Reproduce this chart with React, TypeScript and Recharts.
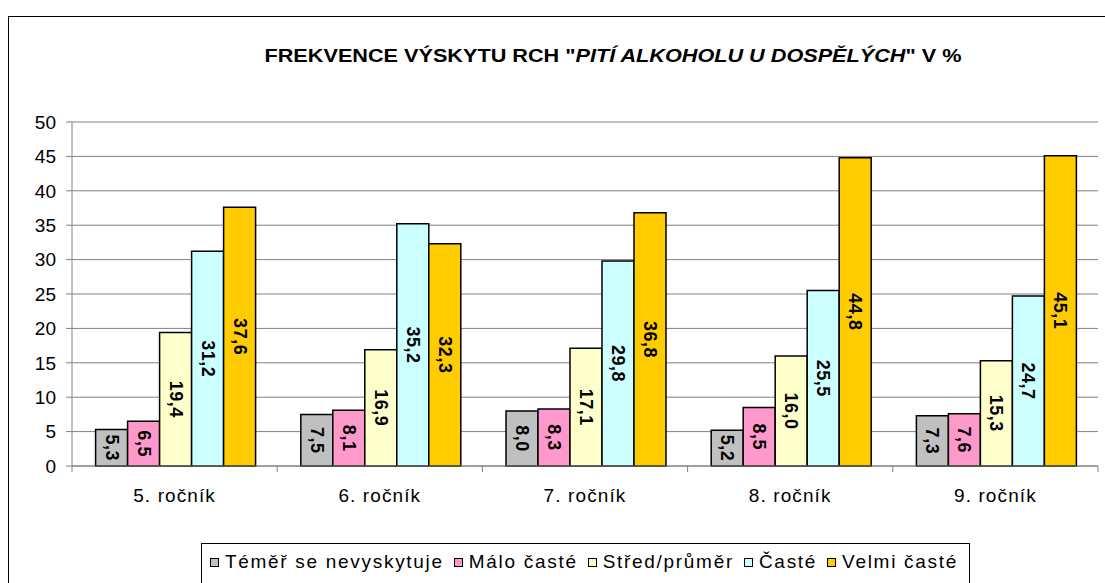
import React from 'react';
import { BarChart, Bar, XAxis, YAxis, CartesianGrid, LabelList } from 'recharts';

const grades = ['5. ročník', '6. ročník', '7. ročník', '8. ročník', '9. ročník'];
const temerSeNevyskytuje = [5.3, 7.5, 8.0, 5.2, 7.3];
const maloCaste = [6.5, 8.1, 8.3, 8.5, 7.6];
const stredPrumer = [19.4, 16.9, 17.1, 16.0, 15.3];
const caste = [31.2, 35.2, 29.8, 25.5, 24.7];
const velmiCaste = [37.6, 32.3, 36.8, 44.8, 45.1];
const yTicks = [0, 5, 10, 15, 20, 25, 30, 35, 40, 45, 50];

const SERIES = [
  { key: 'temer', name: 'Téměř se nevyskytuje', color: '#C0C0C0', values: temerSeNevyskytuje },
  { key: 'malo', name: 'Málo časté', color: '#FF99CC', values: maloCaste },
  { key: 'stred', name: 'Střed/průměr', color: '#FFFFCC', values: stredPrumer },
  { key: 'caste', name: 'Časté', color: '#CCFFFF', values: caste },
  { key: 'velmi', name: 'Velmi časté', color: '#FFCC00', values: velmiCaste },
];

const data = grades.map((g, i) => {
  const row: Record<string, string | number> = { grade: g };
  SERIES.forEach((s) => {
    row[s.key] = s.values[i];
  });
  return row;
});

const FONT = '"Liberation Sans", Arial, sans-serif';
const AXIS_GRAY = '#808080';
const TICK_SIZE = 6;
const TICK_MARGIN = 17;

const fmt = (v: number) => v.toFixed(1).replace('.', ',');

function VerticalLabel(props: any) {
  const { x, y, width, height, value } = props;
  const cx = x + width / 2;
  const cy = y + height / 2;
  return (
    <text
      x={cx}
      y={cy}
      transform={`rotate(90, ${cx}, ${cy})`}
      textAnchor="middle"
      dominantBaseline="central"
      fontFamily={FONT}
      fontWeight="bold"
      fontSize={18}
      letterSpacing={0.5}
      fill="#000"
    >
      {fmt(Number(value))}
    </text>
  );
}

function CategoryTick(props: any) {
  const { x, y, payload, index } = props;
  const half = 1026 / grades.length / 2;
  const axisY = y - TICK_SIZE - TICK_MARGIN;
  return (
    <g>
      <line x1={x - half} x2={x - half} y1={axisY} y2={axisY + TICK_SIZE} stroke={AXIS_GRAY} />
      {index === grades.length - 1 && (
        <line x1={x + half} x2={x + half} y1={axisY} y2={axisY + TICK_SIZE} stroke={AXIS_GRAY} />
      )}
      <text
        x={x}
        y={y}
        dy="0.71em"
        textAnchor="middle"
        fontFamily={FONT}
        fontSize={19}
        letterSpacing={1.1}
        fill="#000"
      >
        {payload.value}
      </text>
    </g>
  );
}

export default function App() {
  return (
    <div style={{ position: 'relative', width: 1105, height: 583, overflow: 'hidden', background: '#fff', fontFamily: FONT }}>
      <style>{'body{margin:0;overflow:hidden}'}</style>
      <div
        style={{
          position: 'absolute',
          left: 8,
          top: 16,
          width: 1200,
          height: 700,
          border: '1.5px solid #000',
        }}
      />
      <svg style={{ position: 'absolute', left: 0, top: 0 }} width={1105} height={100}>
        <text
          x={613}
          y={62}
          textAnchor="middle"
          fontFamily={FONT}
          fontWeight="bold"
          fontSize={18}
          textLength={697}
          lengthAdjust="spacingAndGlyphs"
        >
          {'FREKVENCE VÝSKYTU RCH "'}
          <tspan fontStyle="italic">PITÍ ALKOHOLU U DOSPĚLÝCH</tspan>
          {'" V %'}
        </text>
      </svg>
      <div style={{ position: 'absolute', left: 0, top: 0 }}>
        <BarChart
          width={1105}
          height={583}
          data={data}
          margin={{ top: 122, right: 7, bottom: 72, left: 0 }}
          barCategoryGap="11.5%"
          barGap={0}
        >
          <CartesianGrid vertical={false} stroke={AXIS_GRAY} />
          <XAxis
            dataKey="grade"
            height={45}
            axisLine={{ stroke: AXIS_GRAY }}
            tickLine={false}
            tickSize={TICK_SIZE}
            tickMargin={TICK_MARGIN}
            tick={<CategoryTick />}
            interval={0}
          />
          <YAxis
            width={72}
            domain={[0, 50]}
            ticks={yTicks}
            interval={0}
            axisLine={{ stroke: AXIS_GRAY }}
            tickLine={{ stroke: AXIS_GRAY }}
            tickSize={6}
            tickMargin={10}
            tick={{ fill: '#000', fontSize: 19, fontFamily: FONT }}
          />
          {SERIES.map((s) => (
            <Bar
              key={s.key}
              dataKey={s.key}
              name={s.name}
              fill={s.color}
              stroke="#000"
              strokeWidth={1.5}
              isAnimationActive={false}
            >
              <LabelList dataKey={s.key} content={<VerticalLabel />} />
            </Bar>
          ))}
        </BarChart>
      </div>
      <div
        style={{
          position: 'absolute',
          left: 201,
          top: 543,
          width: 769,
          height: 60,
          border: '1.5px solid #000',
          background: '#fff',
          boxSizing: 'border-box',
        }}
      >
        <div
          style={{
            display: 'flex',
            alignItems: 'center',
            marginTop: 7,
            marginLeft: 8,
            fontSize: 19,
            letterSpacing: 1.7,
            whiteSpace: 'nowrap',
          }}
        >
          {SERIES.map((s) => (
            <div key={s.key} style={{ display: 'flex', alignItems: 'center', marginRight: 10 }}>
              <span
                style={{
                  display: 'inline-block',
                  width: 7,
                  height: 7,
                  background: s.color,
                  border: '1.5px solid #000',
                  marginRight: 6,
                }}
              />
              <span>{s.name}</span>
            </div>
          ))}
        </div>
      </div>
    </div>
  );
}
